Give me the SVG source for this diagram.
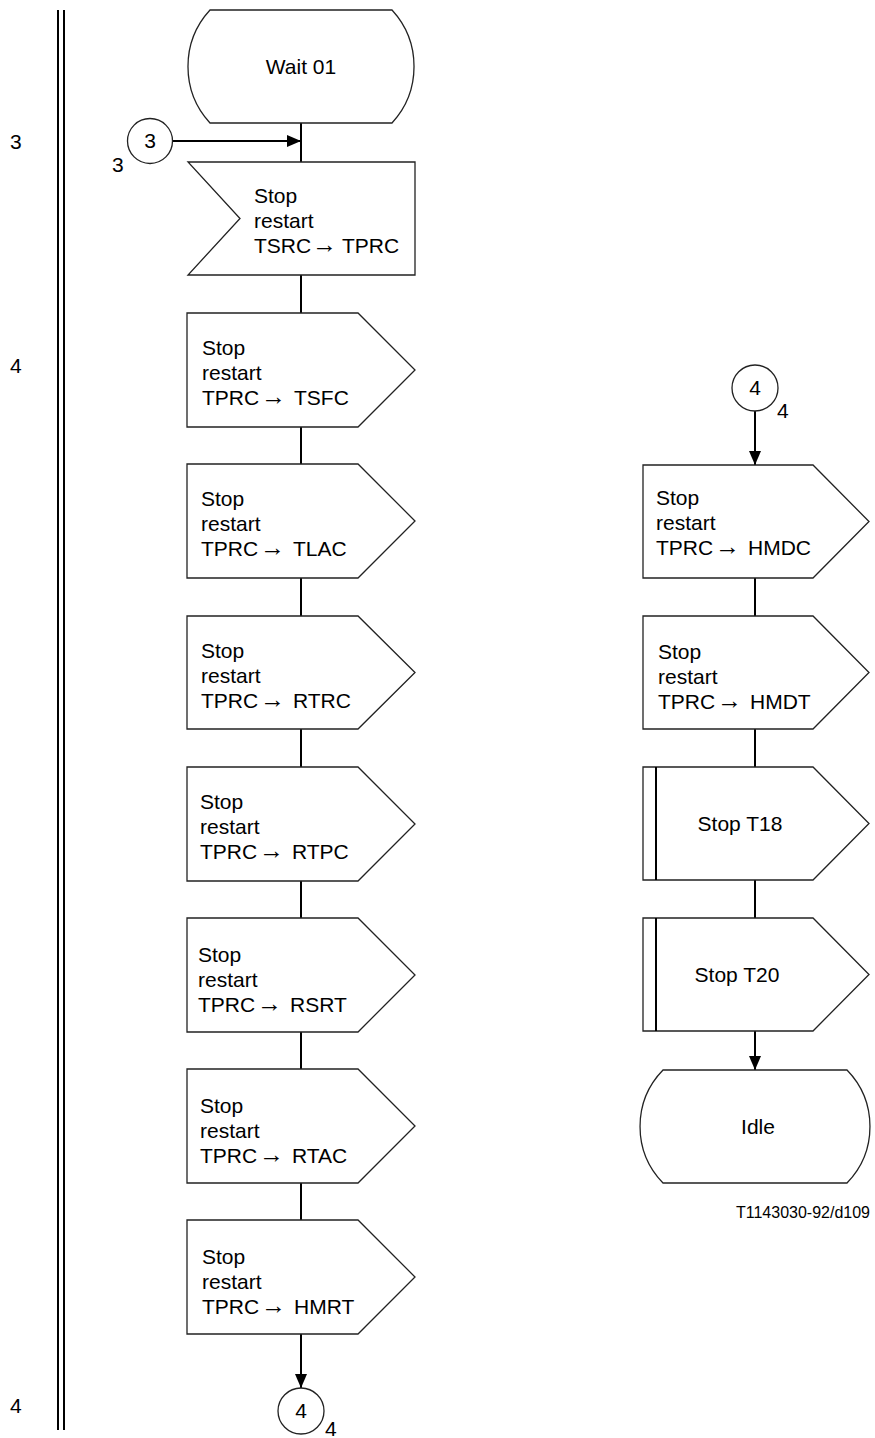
<svg xmlns="http://www.w3.org/2000/svg" width="875" height="1438" viewBox="0 0 875 1438">
<style>
.sh{fill:#fff;stroke:#222;stroke-width:1.3}
.ln{fill:none;stroke:#000;stroke-width:2}
.t{font-family:"Liberation Sans",Arial,sans-serif;font-size:21px;fill:#000}
.c{text-anchor:middle}
.ar{font-family:"Liberation Sans",Arial,sans-serif;font-size:25px}
.fn{font-family:"Liberation Sans",Arial,sans-serif;font-size:16px;fill:#000}
</style>
<defs>
<marker id="ah" markerUnits="userSpaceOnUse" markerWidth="14" markerHeight="12" refX="14" refY="6" orient="auto">
<path d="M0,0 L14,6 L0,12 Z" fill="#000"/>
</marker>
</defs>
<rect width="875" height="1438" fill="#fff"/>
<g id="page-bar">
<line x1="58" y1="10" x2="58" y2="1430" class="ln"/>
<line x1="64" y1="10" x2="64" y2="1430" class="ln"/>
<text x="10" y="149" class="t">3</text>
<text x="10" y="373" class="t">4</text>
<text x="10" y="1413" class="t">4</text>
</g>
<g id="connectors">
<line x1="172" y1="141" x2="301" y2="141" class="ln" marker-end="url(#ah)"/>
<line x1="301" y1="123" x2="301" y2="162" class="ln"/>
<line x1="301" y1="275" x2="301" y2="313" class="ln"/>
<line x1="301" y1="427" x2="301" y2="464" class="ln"/>
<line x1="301" y1="578" x2="301" y2="616" class="ln"/>
<line x1="301" y1="729" x2="301" y2="767" class="ln"/>
<line x1="301" y1="881" x2="301" y2="918" class="ln"/>
<line x1="301" y1="1032" x2="301" y2="1069" class="ln"/>
<line x1="301" y1="1183" x2="301" y2="1220" class="ln"/>
<line x1="301" y1="1334" x2="301" y2="1388" class="ln" marker-end="url(#ah)"/>
<line x1="755" y1="411" x2="755" y2="465" class="ln" marker-end="url(#ah)"/>
<line x1="755" y1="578" x2="755" y2="616" class="ln"/>
<line x1="755" y1="729" x2="755" y2="767" class="ln"/>
<line x1="755" y1="880" x2="755" y2="918" class="ln"/>
<line x1="755" y1="1031" x2="755" y2="1070" class="ln" marker-end="url(#ah)"/>
</g>
<g id="wait01">
<path class="sh" d="M210,10 L392,10 A83.5,83.5 0 0 1 392,123 L210,123 A83.5,83.5 0 0 1 210,10 Z"/>
<text x="301" y="74" class="t c">Wait 01</text>
</g>
<g id="conn3">
<circle cx="150" cy="141" r="22.5" class="sh"/>
<text x="150" y="148" class="t c">3</text>
<text x="112" y="172" class="t">3</text>
</g>
<g id="in-tsrc-tprc">
<path class="sh" d="M188,162 L415,162 L415,275 L188,275 L240,218.5 Z"/>
<text x="254" y="203" class="t">Stop</text>
<text x="254" y="228" class="t">restart</text>
<text y="253" class="t"><tspan x="254">TSRC</tspan><tspan class="ar" x="312">→</tspan><tspan x="342">TPRC</tspan></text>
</g>
<g id="out-tsfc">
<path class="sh" d="M187,313 L358,313 L415,370 L358,427 L187,427 Z"/>
<text x="202" y="355" class="t">Stop</text>
<text x="202" y="380" class="t">restart</text>
<text y="405" class="t"><tspan x="202">TPRC</tspan><tspan class="ar" x="261">→</tspan><tspan x="294">TSFC</tspan></text>
</g>
<g id="out-tlac">
<path class="sh" d="M187,464 L358,464 L415,521 L358,578 L187,578 Z"/>
<text x="201" y="506" class="t">Stop</text>
<text x="201" y="531" class="t">restart</text>
<text y="556" class="t"><tspan x="201">TPRC</tspan><tspan class="ar" x="260">→</tspan><tspan x="293">TLAC</tspan></text>
</g>
<g id="out-rtrc">
<path class="sh" d="M187,616 L358,616 L415,672.5 L358,729 L187,729 Z"/>
<text x="201" y="658" class="t">Stop</text>
<text x="201" y="683" class="t">restart</text>
<text y="708" class="t"><tspan x="201">TPRC</tspan><tspan class="ar" x="260">→</tspan><tspan x="293">RTRC</tspan></text>
</g>
<g id="out-rtpc">
<path class="sh" d="M187,767 L358,767 L415,824 L358,881 L187,881 Z"/>
<text x="200" y="809" class="t">Stop</text>
<text x="200" y="834" class="t">restart</text>
<text y="859" class="t"><tspan x="200">TPRC</tspan><tspan class="ar" x="259">→</tspan><tspan x="292">RTPC</tspan></text>
</g>
<g id="out-rsrt">
<path class="sh" d="M187,918 L358,918 L415,975 L358,1032 L187,1032 Z"/>
<text x="198" y="962" class="t">Stop</text>
<text x="198" y="987" class="t">restart</text>
<text y="1012" class="t"><tspan x="198">TPRC</tspan><tspan class="ar" x="257">→</tspan><tspan x="290">RSRT</tspan></text>
</g>
<g id="out-rtac">
<path class="sh" d="M187,1069 L358,1069 L415,1126 L358,1183 L187,1183 Z"/>
<text x="200" y="1113" class="t">Stop</text>
<text x="200" y="1138" class="t">restart</text>
<text y="1163" class="t"><tspan x="200">TPRC</tspan><tspan class="ar" x="259">→</tspan><tspan x="292">RTAC</tspan></text>
</g>
<g id="out-hmrt">
<path class="sh" d="M187,1220 L358,1220 L415,1277 L358,1334 L187,1334 Z"/>
<text x="202" y="1264" class="t">Stop</text>
<text x="202" y="1289" class="t">restart</text>
<text y="1314" class="t"><tspan x="202">TPRC</tspan><tspan class="ar" x="261">→</tspan><tspan x="294">HMRT</tspan></text>
</g>
<g id="conn4-out">
<circle cx="301" cy="1411" r="23" class="sh"/>
<text x="301" y="1418" class="t c">4</text>
<text x="325" y="1436" class="t">4</text>
</g>
<g id="conn4-in">
<circle cx="755" cy="388" r="23" class="sh"/>
<text x="755" y="395" class="t c">4</text>
<text x="777" y="418" class="t">4</text>
</g>
<g id="out-hmdc">
<path class="sh" d="M643,465 L813,465 L869,521.5 L813,578 L643,578 Z"/>
<text x="656" y="505" class="t">Stop</text>
<text x="656" y="530" class="t">restart</text>
<text y="555" class="t"><tspan x="656">TPRC</tspan><tspan class="ar" x="715">→</tspan><tspan x="748">HMDC</tspan></text>
</g>
<g id="out-hmdt">
<path class="sh" d="M643,616 L813,616 L869,672.5 L813,729 L643,729 Z"/>
<text x="658" y="659" class="t">Stop</text>
<text x="658" y="684" class="t">restart</text>
<text y="709" class="t"><tspan x="658">TPRC</tspan><tspan class="ar" x="717">→</tspan><tspan x="750">HMDT</tspan></text>
</g>
<g id="stop-t18">
<path class="sh" d="M643,767 L813,767 L869,823.5 L813,880 L643,880 Z"/>
<line x1="656" y1="767" x2="656" y2="880" class="ln"/>
<text x="740" y="831" class="t c">Stop T18</text>
</g>
<g id="stop-t20">
<path class="sh" d="M643,918 L813,918 L869,974.5 L813,1031 L643,1031 Z"/>
<line x1="656" y1="918" x2="656" y2="1031" class="ln"/>
<text x="737" y="982" class="t c">Stop T20</text>
</g>
<g id="idle">
<path class="sh" d="M663,1070 L847,1070 A81,81 0 0 1 847,1183 L663,1183 A81,81 0 0 1 663,1070 Z"/>
<text x="758" y="1134" class="t c">Idle</text>
</g>
<text x="870" y="1218" class="fn" text-anchor="end">T1143030-92/d109</text>
</svg>
